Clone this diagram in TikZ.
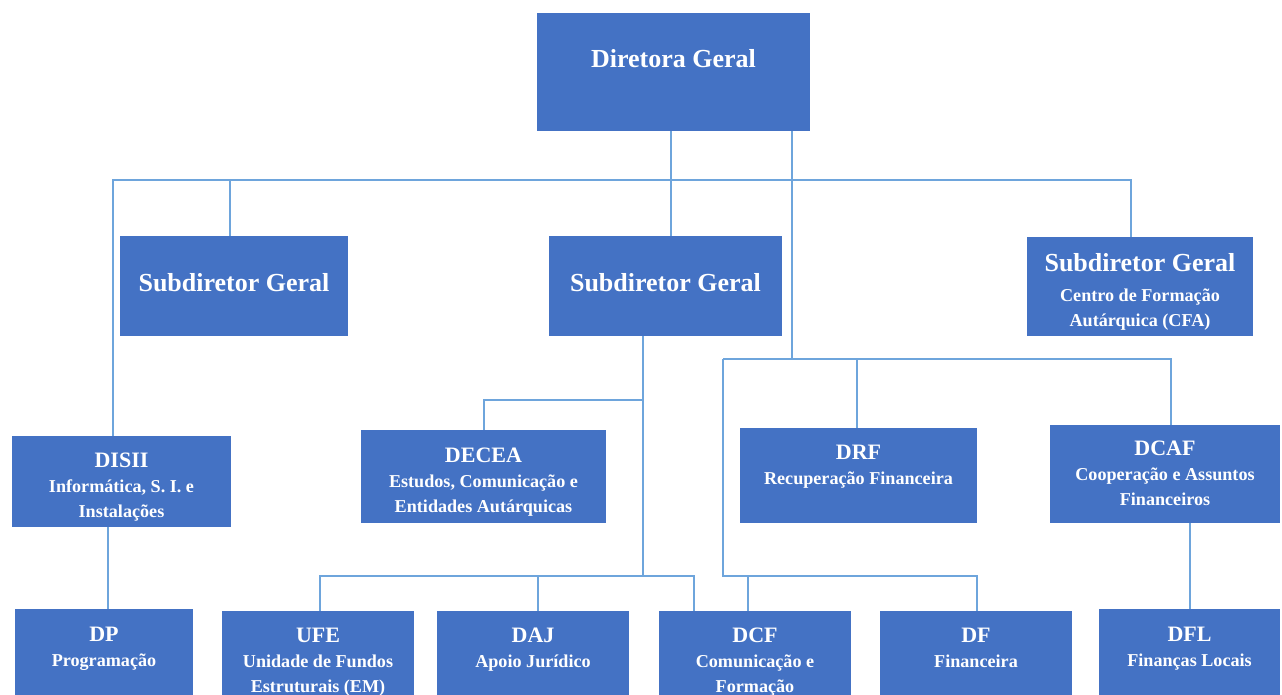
\documentclass[tikz,border=0pt]{standalone}
\usepackage{fontspec}
\setmainfont{Liberation Serif}
\usepackage{xcolor}
\usepackage{tikz}
\definecolor{unitblue}{RGB}{68,114,196}
\definecolor{linkblue}{RGB}{110,165,220}
\newcommand{\bigfont}{\fontsize{19.5}{23}\selectfont}
\newcommand{\ttlfont}{\fontsize{16.5}{20}\selectfont}
\newcommand{\subfont}{\fontsize{13.6}{18.8}\selectfont}
\newcommand{\unitbox}[7]{\node[unit,minimum width={(#4-#2)*0.75pt},minimum height={(#5-#3)*0.75pt}] (#1) at ({(#2+#4)/2},{(#3+#5)/2}) {};
  \node[unittext] (#1-txt) at ({(#2+#4)/2},#6) {#7};}
\tikzset{
  unit/.style={fill=unitblue,draw=none,inner sep=0pt},
  unittext/.style={text=white,font=\subfont\bfseries,align=center,inner sep=0pt},
  link/.style={draw=linkblue,line width=1.1pt}
}

\begin{document}
\begin{tikzpicture}[x=0.75pt,y=-0.75pt]
\useasboundingbox (0,0) rectangle (1282,695);
% ---- DIRECAO ----
\unitbox{dg}{537}{13}{810}{131}{59}{{\bigfont Diretora Geral}}
\unitbox{sg1}{120}{236}{348}{336}{283}{{\bigfont Subdiretor Geral}}
\unitbox{sg2}{549}{236}{782}{336}{283}{{\bigfont Subdiretor Geral}}
\unitbox{sg3}{1027}{237}{1253}{336}{292}{{\bigfont Subdiretor Geral}\\[4pt] Centro de Formação\\ Autárquica (CFA)}
% ---- DEPARTAMENTOS ----
\unitbox{disii}{12}{436}{231}{527}{487}{{\ttlfont DISII}\\ Informática, S. I. e\\ Instalações}
\unitbox{decea}{361}{430}{606}{523}{482}{{\ttlfont DECEA}\\ Estudos, Comunicação e\\ Entidades Autárquicas}
\unitbox{drf}{740}{428}{977}{523}{467}{{\ttlfont DRF}\\ Recuperação Financeira}
\unitbox{dcaf}{1050}{425}{1280}{523}{473}{{\ttlfont DCAF}\\ Cooperação e Assuntos\\ Financeiros}
\unitbox{dp}{15}{609}{193}{705}{649}{{\ttlfont DP}\\ Programação}
\unitbox{ufe}{222}{611}{414}{705}{662}{{\ttlfont UFE}\\ Unidade de Fundos\\ Estruturais (EM)}
\unitbox{daj}{437}{611}{629}{705}{650}{{\ttlfont DAJ}\\ Apoio Jurídico}
\unitbox{dcf}{659}{611}{851}{705}{662}{{\ttlfont DCF}\\ Comunicação e\\ Formação}
\unitbox{df}{880}{611}{1072}{705}{648}{{\ttlfont DF}\\ Financeira}
\unitbox{dfl}{1099}{609}{1280}{705}{649}{{\ttlfont DFL}\\ Finanças Locais}
% ---- LIGACOES ----
\coordinate (tb-w) at (113,180);
\coordinate (tb-e) at (1131,180);
\coordinate (tb-sg1) at (230,180);
\coordinate (dg-sg2) at (671,180);
\coordinate (dg-mid) at (792,359);
\draw[link] (disii.north -| tb-w) -- (tb-w) -- (tb-e) -- (sg3.north -| tb-e);
\draw[link] (tb-sg1) -- (sg1.north -| tb-sg1);
\draw[link] (dg.south -| dg-sg2) -- (sg2.north -| dg-sg2);
\draw[link] (dg.south -| dg-mid) -- (dg-mid);
\coordinate (mb-w) at (723,359);
\coordinate (mb-e) at (1171,359);
\coordinate (mb-drf) at (857,359);
\draw[link] (mb-w) -- (mb-e) -- (dcaf.north -| mb-e);
\draw[link] (mb-drf) -- (drf.north -| mb-drf);
\coordinate (lb-w) at (723,576);
\coordinate (lb-e) at (977,576);
\coordinate (lb-dcf) at (748,576);
\draw[link] (mb-w) -- (lb-w) -- (lb-e) -- (df.north -| lb-e);
\draw[link] (lb-dcf) -- (dcf.north -| lb-dcf);
\coordinate (s2-v) at (643,576);
\coordinate (s2-j) at (643,400);
\coordinate (s2-dec) at (484,400);
\draw[link] (sg2.south -| s2-v) -- (s2-v);
\draw[link] (s2-j) -- (s2-dec) -- (decea.north -| s2-dec);
\coordinate (bb-w) at (320,576);
\coordinate (bb-e) at (694,576);
\coordinate (bb-daj) at (538,576);
\draw[link] (ufe.north -| bb-w) -- (bb-w) -- (bb-e) -- (dcf.north -| bb-e);
\draw[link] (bb-daj) -- (daj.north -| bb-daj);
\coordinate (dp-v) at (108,0);
\draw[link] (disii.south -| dp-v) -- (dp.north -| dp-v);
\coordinate (dfl-v) at (1190,0);
\draw[link] (dcaf.south -| dfl-v) -- (dfl.north -| dfl-v);
\end{tikzpicture}
\end{document}
